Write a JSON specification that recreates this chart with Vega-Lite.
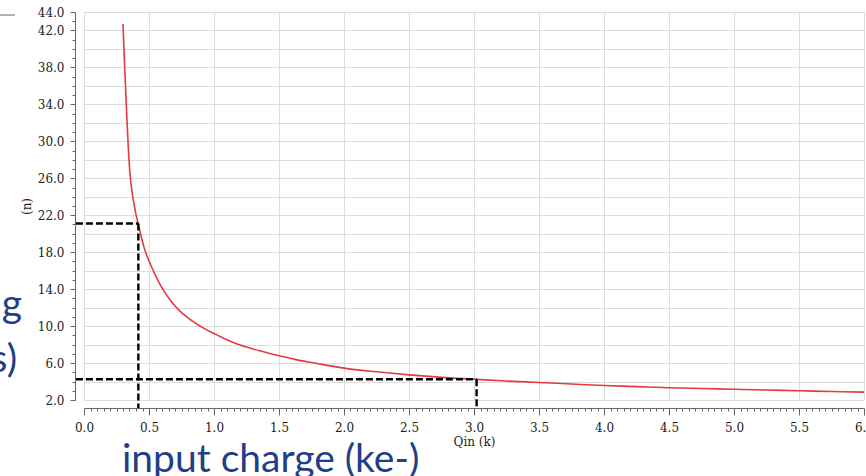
{
  "$schema": "https://vega.github.io/schema/vega-lite/v6.json",
  "autosize": {"type": "none"},
  "width": 780,
  "height": 388,
  "padding": {"left": 84, "top": 12, "right": 2, "bottom": 76},
  "background": "white",
  "config": {
    "view": {"stroke": null},
    "axis": {
      "labelFont": "DejaVu Serif",
      "labelFontSize": 12,
      "labelColor": "#222222",
      "titleFont": "DejaVu Serif",
      "titleFontSize": 12,
      "titleFontWeight": "normal",
      "titleColor": "#222222",
      "domainColor": "#666666",
      "tickColor": "#666666",
      "gridColor": "#dcdcdc",
      "labelOverlap": false,
      "labelFlush": false,
      "labelBound": false
    }
  },
  "datasets": {
    "curve": [
      {"x": 0.30, "y": 42.7},
      {"x": 0.35, "y": 27.2},
      {"x": 0.39, "y": 22.8},
      {"x": 0.42, "y": 20.9},
      {"x": 0.44, "y": 19.7},
      {"x": 0.46, "y": 18.6},
      {"x": 0.49, "y": 17.4},
      {"x": 0.52, "y": 16.4},
      {"x": 0.56, "y": 15.2},
      {"x": 0.61, "y": 13.9},
      {"x": 0.67, "y": 12.7},
      {"x": 0.74, "y": 11.6},
      {"x": 0.80, "y": 10.9},
      {"x": 0.87, "y": 10.2},
      {"x": 0.93, "y": 9.7},
      {"x": 1.0, "y": 9.2},
      {"x": 1.05, "y": 8.85},
      {"x": 1.1, "y": 8.52},
      {"x": 1.15, "y": 8.22},
      {"x": 1.2, "y": 7.95},
      {"x": 1.27, "y": 7.65},
      {"x": 1.35, "y": 7.32},
      {"x": 1.42, "y": 7.07},
      {"x": 1.5, "y": 6.8},
      {"x": 1.62, "y": 6.4},
      {"x": 1.75, "y": 6.05},
      {"x": 1.87, "y": 5.75},
      {"x": 2.0, "y": 5.45},
      {"x": 2.25, "y": 5.05},
      {"x": 2.5, "y": 4.72},
      {"x": 2.75, "y": 4.45},
      {"x": 3.0, "y": 4.25},
      {"x": 3.25, "y": 4.05},
      {"x": 3.5, "y": 3.9},
      {"x": 3.75, "y": 3.73},
      {"x": 4.0, "y": 3.57},
      {"x": 4.25, "y": 3.45},
      {"x": 4.5, "y": 3.33},
      {"x": 4.75, "y": 3.25},
      {"x": 5.0, "y": 3.16},
      {"x": 5.25, "y": 3.08},
      {"x": 5.5, "y": 3.0},
      {"x": 5.75, "y": 2.92},
      {"x": 6.0, "y": 2.85}
    ],
    "guides": [
      {"x": -0.062, "x2": 0.418, "y": 21.1, "y2": 21.1},
      {"x": 0.418, "x2": 0.418, "y": 21.1, "y2": 1.13},
      {"x": -0.062, "x2": 3.02, "y": 4.24, "y2": 4.24},
      {"x": 3.02, "x2": 3.02, "y": 4.24, "y2": 1.13}
    ],
    "notesRight": [
      {"x": -0.477, "y": 10.98, "label": "g"},
      {"x": -0.515, "y": 5.03, "label": "s)"}
    ],
    "notesLeft": [
      {"x": 0.292, "y": -5.79, "label": "input charge (ke-)"}
    ],
    "deco": [
      {"x": -0.646, "x2": -0.531, "y": 43.67, "y2": 43.67}
    ]
  },
  "encoding": {
    "x": {
      "field": "x",
      "type": "quantitative",
      "scale": {"domain": [0, 6], "nice": false, "zero": false},
      "axis": {
        "title": "Qin (k)",
        "offset": 8,
        "titlePadding": 3,
        "labelPadding": 7,
        "values": [0,0.05,0.1,0.15,0.2,0.25,0.3,0.35,0.4,0.45,0.5,0.55,0.6,0.65,0.7,0.75,0.8,0.85,0.9,0.95,1,1.05,1.1,1.15,1.2,1.25,1.3,1.35,1.4,1.45,1.5,1.55,1.6,1.65,1.7,1.75,1.8,1.85,1.9,1.95,2,2.05,2.1,2.15,2.2,2.25,2.3,2.35,2.4,2.45,2.5,2.55,2.6,2.65,2.7,2.75,2.8,2.85,2.9,2.95,3,3.05,3.1,3.15,3.2,3.25,3.3,3.35,3.4,3.45,3.5,3.55,3.6,3.65,3.7,3.75,3.8,3.85,3.9,3.95,4,4.05,4.1,4.15,4.2,4.25,4.3,4.35,4.4,4.45,4.5,4.55,4.6,4.65,4.7,4.75,4.8,4.85,4.9,4.95,5,5.05,5.1,5.15,5.2,5.25,5.3,5.35,5.4,5.45,5.5,5.55,5.6,5.65,5.7,5.75,5.8,5.85,5.9,5.95,6],
        "labelExpr": "abs(datum.value*2 - round(datum.value*2)) < 0.001 ? format(datum.value, '.1f') : ''",
        "tickSize": {"condition": {"test": "abs(datum.value*2 - round(datum.value*2)) < 0.001", "value": 7}, "value": 3},
        "grid": true,
        "gridOpacity": {"condition": {"test": "abs(datum.value*2 - round(datum.value*2)) < 0.001", "value": 1}, "value": 0}
      }
    },
    "y": {
      "field": "y",
      "type": "quantitative",
      "scale": {"domain": [2, 44], "nice": false, "zero": false},
      "axis": {
        "title": "(n)",
        "offset": 9,
        "titlePadding": 4,
        "labelPadding": 6,
        "values": [2,3,4,5,6,7,8,9,10,11,12,13,14,15,16,17,18,19,20,21,22,23,24,25,26,27,28,29,30,31,32,33,34,35,36,37,38,39,40,41,42,43,44],
        "labelExpr": "(datum.value - 2) % 4 == 0 || datum.value == 44 ? format(datum.value, '.1f') : ''",
        "tickSize": {"condition": {"test": "(datum.value - 2) % 4 == 0 || datum.value == 44", "value": 5}, "value": 3},
        "grid": true,
        "gridOpacity": {"condition": {"test": "datum.value % 2 == 0", "value": 1}, "value": 0}
      }
    }
  },
  "layer": [
    {
      "data": {"name": "curve"},
      "mark": {"type": "line", "color": "#e53a3f", "strokeWidth": 1.6, "interpolate": "monotone", "clip": false}
    },
    {
      "data": {"name": "guides"},
      "mark": {"type": "rule", "color": "#000000", "strokeWidth": 2.4, "strokeDash": [7, 3]},
      "encoding": {"x2": {"field": "x2"}, "y2": {"field": "y2"}}
    },
    {
      "data": {"name": "deco"},
      "mark": {"type": "rule", "color": "#b0b0b0", "strokeWidth": 2},
      "encoding": {"x2": {"field": "x2"}, "y2": {"field": "y2"}}
    },
    {
      "data": {"name": "notesRight"},
      "mark": {"type": "text", "align": "right", "baseline": "alphabetic", "font": "Lato", "fontSize": 39, "color": "#1f3f86"},
      "encoding": {"text": {"field": "label"}}
    },
    {
      "data": {"name": "notesLeft"},
      "mark": {"type": "text", "align": "left", "baseline": "alphabetic", "font": "Lato", "fontSize": 39, "color": "#1f3f86"},
      "encoding": {"text": {"field": "label"}}
    }
  ]
}
